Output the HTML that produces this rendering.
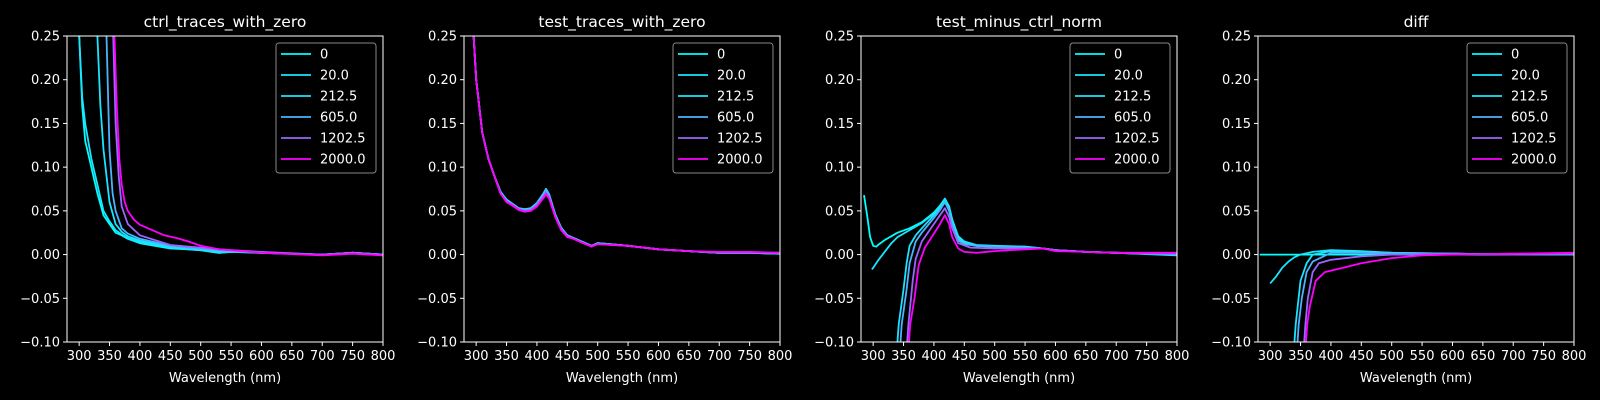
<!DOCTYPE html>
<html><head><meta charset="utf-8"><style>
html,body{margin:0;padding:0;background:#000;}
svg{display:block;font-family:"DejaVu Sans","Liberation Sans",sans-serif;}
</style></head><body>
<svg id="fig" width="1600" height="400" viewBox="0 0 1600 400"></svg>
<script>
const seriesLabels = ["0","20.0","212.5","605.0","1202.5","2000.0"];
const seriesColors = ["#00ffff","#1ae5ff","#1be4ff","#4db2ff","#9966ff","#ff00ff"];
const panelTitles = ["ctrl_traces_with_zero","test_traces_with_zero","test_minus_ctrl_norm","diff"];
const xTicks = [300,350,400,450,500,550,600,650,700,750,800];
const yTicks = [-0.10,-0.05,0.00,0.05,0.10,0.15,0.20,0.25];

// Panel 1: ctrl_traces_with_zero
const p1wl = [
 [296,300,305,310,320,330,340,350,360,370,380,400,450,480,500,530,550,600,700,750,800],
 [296,300,305,310,320,330,340,350,360,370,380,400,450,480,500,530,550,600,700,750,800],
 [326,330,335,340,350,360,370,380,400,450,480,500,530,550,600,700,750,800],
 [341,345,350,355,360,370,380,400,450,480,500,530,550,600,700,750,800],
 [352,356,360,365,370,380,400,450,480,500,530,550,600,700,750,800],
 [354,358,362,366,370,375,380,390,400,420,440,460,480,500,530,550,600,700,750,800]];
const p1val = [
 [0.40,0.25,0.17,0.13,0.10,0.07,0.045,0.035,0.025,0.022,0.018,0.013,0.007,0.006,0.005,0.002,0.003,0.002,0.000,0.002,0.000],
 [0.40,0.25,0.18,0.15,0.11,0.08,0.05,0.038,0.028,0.023,0.019,0.014,0.008,0.006,0.005,0.002,0.003,0.002,0.000,0.002,0.000],
 [0.40,0.25,0.17,0.12,0.06,0.035,0.026,0.021,0.016,0.009,0.007,0.006,0.004,0.004,0.002,0.000,0.002,0.000],
 [0.40,0.25,0.12,0.07,0.05,0.03,0.024,0.018,0.010,0.008,0.007,0.005,0.004,0.002,0.000,0.002,0.000],
 [0.40,0.25,0.15,0.09,0.055,0.035,0.022,0.011,0.009,0.008,0.006,0.005,0.003,0.000,0.002,0.000],
 [0.40,0.25,0.17,0.11,0.08,0.06,0.05,0.04,0.034,0.028,0.022,0.019,0.015,0.01,0.006,0.005,0.002,-0.001,0.001,-0.001]];

// Panel 2: test_traces_with_zero
const p2base = [290,295,300,310,320,330,340,350,360,370,380,390,400,410,415,420,430,440,450,460,480,490,500,550,600,650,700,750,800];
const p2wl = [p2base,p2base,p2base,p2base,p2base,p2base];
const p2val = [
 [0.32,0.26,0.20,0.14,0.11,0.09,0.072,0.062,0.057,0.052,0.050,0.052,0.058,0.068,0.074,0.068,0.045,0.030,0.022,0.019,0.013,0.010,0.013,0.010,0.006,0.004,0.002,0.002,0.001],
 [0.32,0.26,0.20,0.14,0.11,0.09,0.071,0.063,0.058,0.053,0.051,0.053,0.059,0.069,0.075,0.069,0.046,0.031,0.022,0.019,0.013,0.010,0.013,0.010,0.006,0.004,0.002,0.002,0.001],
 [0.32,0.26,0.20,0.14,0.11,0.09,0.072,0.063,0.058,0.053,0.052,0.053,0.059,0.069,0.075,0.069,0.046,0.030,0.022,0.019,0.013,0.010,0.013,0.010,0.006,0.004,0.002,0.002,0.001],
 [0.32,0.26,0.20,0.14,0.11,0.09,0.071,0.062,0.058,0.053,0.051,0.052,0.058,0.068,0.074,0.068,0.045,0.030,0.022,0.019,0.013,0.010,0.013,0.010,0.006,0.004,0.002,0.002,0.002],
 [0.32,0.26,0.20,0.14,0.11,0.09,0.070,0.061,0.057,0.052,0.050,0.051,0.057,0.066,0.071,0.066,0.044,0.029,0.021,0.018,0.012,0.010,0.012,0.010,0.006,0.004,0.002,0.002,0.002],
 [0.32,0.26,0.20,0.14,0.11,0.09,0.070,0.060,0.056,0.051,0.049,0.050,0.055,0.064,0.069,0.064,0.043,0.028,0.020,0.018,0.012,0.009,0.012,0.010,0.006,0.004,0.003,0.003,0.002]];

// Panel 3: test_minus_ctrl_norm
const p3wl = [
 [285,290,295,300,305,310,320,340,360,380,400,410,418,425,430,440,450,470,500,550,580,600,650,700,800],
 [298,300,305,310,320,330,340,360,380,400,410,418,425,430,440,450,470,500,550,580,600,650,700,800],
 [338,342,350,355,360,370,380,400,410,418,425,430,440,450,470,500,550,580,600,650,700,800],
 [343,347,355,360,370,380,400,410,418,425,430,440,450,470,500,550,580,600,650,700,800],
 [354,358,365,370,380,400,410,418,425,430,440,460,500,550,580,600,650,700,800],
 [357,361,368,375,385,400,410,418,425,430,440,450,470,500,550,580,600,650,700,800]];
const p3val = [
 [0.068,0.045,0.02,0.010,0.009,0.012,0.017,0.025,0.030,0.037,0.048,0.056,0.064,0.055,0.040,0.020,0.015,0.010,0.009,0.009,0.007,0.005,0.003,0.002,-0.001],
 [-0.017,-0.015,-0.010,-0.005,0.004,0.013,0.020,0.028,0.036,0.047,0.055,0.063,0.055,0.040,0.021,0.015,0.011,0.010,0.009,0.007,0.005,0.003,0.002,0.000],
 [-0.12,-0.08,-0.04,-0.01,0.010,0.022,0.030,0.045,0.054,0.062,0.052,0.036,0.018,0.013,0.010,0.009,0.008,0.007,0.005,0.003,0.002,0.000],
 [-0.12,-0.08,-0.04,-0.01,0.015,0.025,0.042,0.051,0.060,0.050,0.034,0.016,0.012,0.010,0.009,0.008,0.007,0.005,0.003,0.002,0.000],
 [-0.12,-0.08,-0.03,-0.005,0.015,0.035,0.045,0.053,0.043,0.030,0.013,0.008,0.007,0.007,0.007,0.005,0.003,0.002,0.001],
 [-0.12,-0.08,-0.05,-0.012,0.008,0.024,0.035,0.045,0.035,0.020,0.007,0.003,0.002,0.004,0.006,0.007,0.004,0.003,0.002,0.002]];

// Panel 4: diff
const p4wl = [
 [283,800],
 [300,310,320,330,340,350,370,400,450,500,600,700,800],
 [338,342,350,360,370,400,450,500,600,700,800],
 [343,347,352,360,370,400,450,500,600,700,800],
 [354,358,362,370,380,400,450,500,600,700,800],
 [357,361,365,375,390,420,450,500,550,600,700,800]];
const p4val = [
 [0.000,0.000],
 [-0.033,-0.025,-0.015,-0.008,-0.003,0.000,0.003,0.005,0.004,0.002,0.001,0.000,0.000],
 [-0.12,-0.08,-0.03,-0.01,0.000,0.004,0.003,0.002,0.001,0.000,0.000],
 [-0.12,-0.08,-0.05,-0.02,-0.008,0.002,0.002,0.001,0.001,0.000,0.000],
 [-0.12,-0.08,-0.05,-0.02,-0.01,-0.006,-0.002,0.000,0.001,0.000,0.001],
 [-0.12,-0.08,-0.06,-0.03,-0.02,-0.015,-0.01,-0.004,-0.001,0.000,0.001,0.002]];

const panelWl = [p1wl,p2wl,p3wl,p4wl];
const panelVal = [p1val,p2val,p3val,p4val];

const NS = "http://www.w3.org/2000/svg";
const svg = document.getElementById("fig");
const X0 = 280, X1 = 800, Y0 = -0.10, Y1 = 0.25;
const axW = 316, axTop = 36, axBot = 342;
const lefts = [67, 464, 861, 1258];
function mk(tag, attrs, parent){const e=document.createElementNS(NS,tag);for(const k in attrs)e.setAttribute(k,attrs[k]);(parent||svg).appendChild(e);return e;}

const defs = mk("defs",{});
lefts.forEach((L, p) => {
  const xs = v => L + (v - X0) / (X1 - X0) * axW;
  const ys = v => axBot - (v - Y0) / (Y1 - Y0) * (axBot - axTop);
  const g = mk("g",{});
  
  
  const cp = mk("clipPath",{id:"clip"+p},defs);
  mk("rect",{x:L,y:axTop,width:axW,height:axBot-axTop},cp);
  const t = mk("text",{x:L+axW/2,y:27,fill:"#fff","font-size":15.5,"text-anchor":"middle"},g);
  t.textContent = panelTitles[p];
  
  
  const sg = mk("g",{"clip-path":"url(#clip"+p+")"},g);
  panelWl[p].forEach((wl, s) => {
    const vals = panelVal[p][s];
    const d = wl.map((w,i)=>(i?"L":"M")+xs(w).toFixed(1)+","+ys(vals[i]).toFixed(1)).join("");
    const path = mk("path",{d:d,fill:"none",stroke:seriesColors[s],"stroke-width":1.8,"stroke-linejoin":"round"},sg);
    
    
  });
  const fr = mk("rect",{x:L,y:axTop,width:axW,height:axBot-axTop,fill:"none",stroke:"#fff","stroke-width":1},g);
  
  
  xTicks.forEach(v => {
    const x = xs(v);
    mk("line",{x1:x,x2:x,y1:axBot,y2:axBot+4,stroke:"#fff","stroke-width":1},g);
    const tl = mk("text",{x:x,y:axBot+18,fill:"#fff","font-size":13,"text-anchor":"middle"},g);
    tl.textContent = v;
    
    
  });
  yTicks.forEach(v => {
    const y = ys(v);
    mk("line",{x1:L-4,x2:L,y1:y,y2:y,stroke:"#fff","stroke-width":1},g);
    const tl = mk("text",{x:L-7,y:y+4.5,fill:"#fff","font-size":13,"text-anchor":"end"},g);
    tl.textContent = (v<0?"\u2212":"") + Math.abs(v).toFixed(2);
    
    
  });
  const xl = mk("text",{x:L+axW/2,y:382,fill:"#fff","font-size":13,"text-anchor":"middle"},g);
  xl.textContent = "Wavelength (nm)";
  
  
  const lg = mk("g",{},g);
  
  
  const lx = L + axW - 107, ly = 43;
  mk("rect",{x:lx,y:ly,width:100,height:130,rx:3,fill:"#000",stroke:"#888","stroke-width":1,"fill-opacity":0.8},lg);
  seriesLabels.forEach((lab, s) => {
    const y = ly + 11 + s*21;
    const e = mk("g",{},lg);
    
    
    mk("line",{x1:lx+5,x2:lx+35,y1:y,y2:y,stroke:seriesColors[s],"stroke-width":1.8},e);
    const tt = mk("text",{x:lx+44,y:y+4.5,fill:"#fff","font-size":13},e);
    tt.textContent = lab;
  });
});
</script>
</body></html>
